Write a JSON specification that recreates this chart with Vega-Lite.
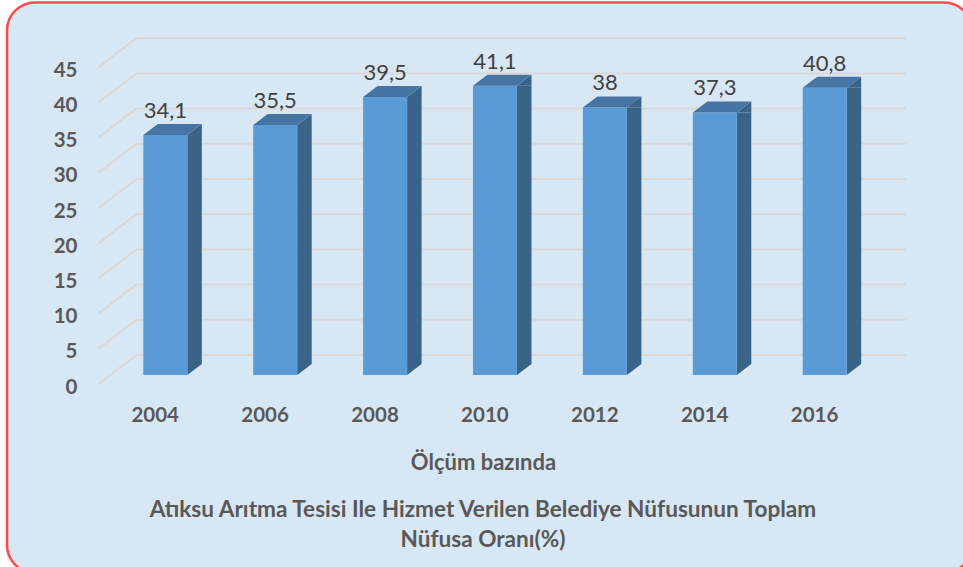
{
"$schema":"https://vega.github.io/schema/vega-lite/v6.json",
"width":965,"height":570.5,
"autosize":{"type":"none"},
"padding":{"left":7,"top":2.5,"right":0,"bottom":0},
"background":"white",
"view":{"fill":"#D8E7F4","stroke":"#FB4A4D","strokeWidth":2.5,"cornerRadius":28},
"title":{"text":["Atıksu Arıtma Tesisi Ile Hizmet Verilen Belediye Nüfusunun Toplam","Nüfusa Oranı(%)"],"orient":"bottom","anchor":"middle","frame":"group","dx":-6.5,"offset":-74,"font":"Lato","fontSize":22.6,"fontWeight":"bold","color":"#595959","lineHeight":30,"baseline":"top"},
"datasets":{
"rows":[
{"year":2004,"value":34.1,"label":"34,1"},
{"year":2006,"value":35.5,"label":"35,5"},
{"year":2008,"value":39.5,"label":"39,5"},
{"year":2010,"value":41.1,"label":"41,1"},
{"year":2012,"value":38,"label":"38"},
{"year":2014,"value":37.3,"label":"37,3"},
{"year":2016,"value":40.8,"label":"40,8"}],
"gridRows":[{"year":2004,"level":0},{"year":2004,"level":5},{"year":2004,"level":10},{"year":2004,"level":15},{"year":2004,"level":20},{"year":2004,"level":25},{"year":2004,"level":30},{"year":2004,"level":35},{"year":2004,"level":40},{"year":2004,"level":45}]
},
"data":{"name":"rows"},
"encoding":{
"x":{"field":"year","type":"quantitative","scale":{"domain":[2004,2016],"range":[158.3,817.7],"nice":false,"zero":false,"padding":0},
"axis":{"orient":"bottom","offset":-168,"values":[2004,2006,2008,2010,2012,2014,2016],"format":"d","domain":false,"ticks":false,"grid":false,"labelPadding":0,"labelOffset":-10.6,"labelFont":"Lato","labelFontSize":20.5,"labelFontWeight":"bold","labelColor":"#595959","labelFlush":false,"labelOverlap":false,"title":"Ölçüm bazında","titleFont":"Lato","titleFontSize":22,"titleFontWeight":"bold","titleColor":"#595959","titleX":476,"titleY":57,"titleBaseline":"middle","titleAnchor":"middle"}},
"y":{"field":"value","type":"quantitative","scale":{"domain":[0,45],"range":[372.5,55.7],"nice":false,"zero":true},
"axis":{"orient":"left","offset":-70,"values":[0,5,10,15,20,25,30,35,40,45],"domain":false,"ticks":false,"grid":false,"labelPadding":0,"labelOffset":12,"labelFont":"Lato","labelFontSize":20.5,"labelFontWeight":"bold","labelColor":"#595959","labelOverlap":false,"labelFlush":false,"title":null}}
},
"layer":[
{"data":{"name":"gridRows"},
 "mark":{"type":"point","shape":"M-67.3,-1L-29.3,-30L740.7,-30L740.7,-28L-28.3,-28L-66.3,1Z","size":4,"filled":true,"color":"#D9D9D9","opacity":1,"strokeWidth":0},
 "encoding":{"y":{"field":"level","type":"quantitative"},"yOffset":{"value":9}}},
{"mark":{"type":"bar","width":14.5,"xOffset":29.25,"y2Offset":-11,"color":"#3A6388"},
 "encoding":{"y2":{"datum":0}}},
{"mark":{"type":"point","shape":"M22,0L36.5,-11L36.5,0Z","size":4,"filled":true,"color":"#3A6388","opacity":1,"strokeWidth":0}},
{"mark":{"type":"point","shape":"M22,0L22,-11L36.5,-11Z","size":4,"filled":true,"color":"#3A6388","opacity":1,"strokeWidth":0},
 "encoding":{"y":{"datum":0,"type":"quantitative"}}},
{"mark":{"type":"bar","width":44,"color":"#5B9BD5"},"encoding":{"y2":{"datum":0}}},
{"mark":{"type":"point","shape":"M-22,0L-7.5,-11L36.5,-11L22,0Z","size":4,"filled":true,"color":"#4674A3","opacity":1,"strokeWidth":0}},
{"mark":{"type":"text","font":"Lato","fontSize":22,"color":"#404040","baseline":"alphabetic","dy":-17,"align":"center"},
 "encoding":{"text":{"field":"label","type":"nominal"}}}
]
}
